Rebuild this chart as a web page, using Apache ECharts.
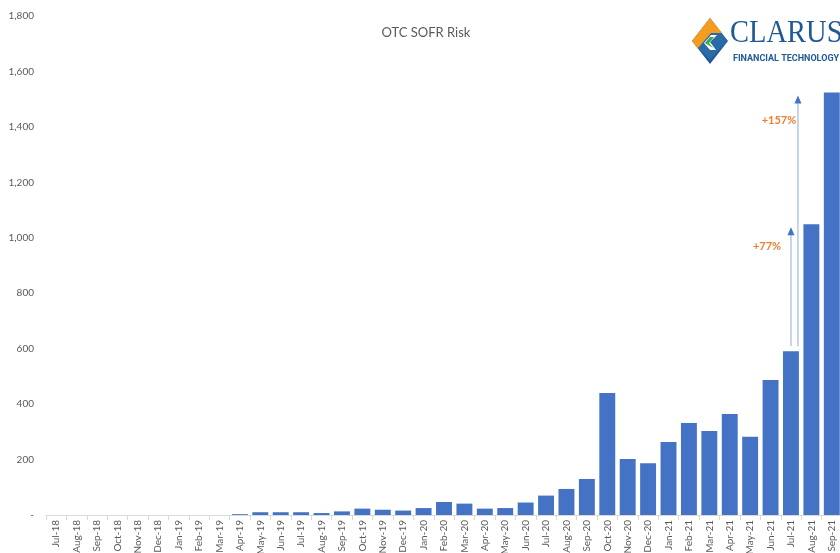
<!DOCTYPE html>
<html>
<head>
<meta charset="utf-8">
<script src="https://cdn.jsdelivr.net/npm/echarts@6/dist/echarts.min.js"></script>
<style>html,body{margin:0;padding:0;background:#fff}#c{width:840px;height:553px}</style>
</head>
<body>
<div id="c"></div>
<script>
var categories = ['Jul-18','Aug-18','Sep-18','Oct-18','Nov-18','Dec-18','Jan-19','Feb-19','Mar-19','Apr-19','May-19','Jun-19','Jul-19','Aug-19','Sep-19','Oct-19','Nov-19','Dec-19','Jan-20','Feb-20','Mar-20','Apr-20','May-20','Jun-20','Jul-20','Aug-20','Sep-20','Oct-20','Nov-20','Dec-20','Jan-21','Feb-21','Mar-21','Apr-21','May-21','Jun-21','Jul-21','Aug-21','Sep-21'];
var riskValues = [0,0,0,0,0,0,0,0,0,3,10,10,10,7,13,23,19,16,25,47,41,23,25,45,70,94,130,440,202,187,263,332,303,364,282,487,591,1049,1524];
var yTicks = {min:0, max:1800, interval:200};
var title = 'OTC SOFR Risk';
var annotations = [
  {label:'+77%', cat:'Jul-21', from:609, to:1038, dx:0, labelValue:970, labelDx:-24},
  {label:'+157%', cat:'Jul-21', from:609, to:1513, dx:7, labelValue:1425, labelDx:-12}
];

var chart = echarts.init(document.getElementById('c'));
var gray = '#595959';
chart.setOption({
  animation:false,
  title:{text:title, left:421, top:21, textAlign:'center',
    textStyle:{fontFamily:'Lato', fontSize:13, fontWeight:'normal', color:gray}},
  grid:{left:46, top:16, width:796, bottom:38, containLabel:false, outerBoundsMode:'none'},
  xAxis:{type:'category', data:categories, boundaryGap:true,
    axisLine:{lineStyle:{color:'#d9d9d9'}},
    axisTick:{show:true, length:5, lineStyle:{color:'#d9d9d9'}},
    axisLabel:{rotate:90, interval:0, fontFamily:'Lato', fontSize:10, color:gray, margin:5}},
  yAxis:{type:'value', min:yTicks.min, max:yTicks.max, interval:yTicks.interval,
    splitLine:{show:false}, axisLine:{show:false}, axisTick:{show:false},
    axisLabel:{fontFamily:'Lato', fontSize:10, color:gray, margin:12,
      formatter:function(v){return v===0?'-':v.toLocaleString('en-US');}}},
  series:[{type:'bar', data:riskValues, barCategoryGap:'22%',
    itemStyle:{color:'#4472C4'}}]
});

function drawExtras(){
  var els = [];
  annotations.forEach(function(a){
    var p0 = chart.convertToPixel({gridIndex:0},[a.cat,a.from]);
    var p1 = chart.convertToPixel({gridIndex:0},[a.cat,a.to]);
    var pl = chart.convertToPixel({gridIndex:0},[a.cat,a.labelValue]);
    var x = p0[0]+a.dx;
    els.push({type:'line', shape:{x1:x,y1:p0[1],x2:x,y2:p1[1]+6}, style:{stroke:'#8eaadb', lineWidth:1}, z:10});
    els.push({type:'polygon', shape:{points:[[x,p1[1]],[x-3.5,p1[1]+8],[x+3.5,p1[1]+8]]}, style:{fill:'#4472C4'}, z:10});
    els.push({type:'text', x:pl[0]+a.labelDx, y:pl[1], style:{text:a.label, fill:'#ED7D31', font:'bold 11px Lato', align:'center', verticalAlign:'middle'}, z:10});
  });
  // logo
  els.push({type:'polygon', shape:{points:[[710,18],[728,41],[710,64],[692,41]]}, style:{fill:'#1f5a96'}, z:10});
  els.push({type:'polygon', shape:{points:[[710,18],[722,33],[712,33],[704,43],[698,49],[692,41]]}, style:{fill:'#f39c1f'}, z:11});
  els.push({type:'polygon', shape:{points:[[711,33],[721,33],[727,41],[710,60],[698,48]]}, style:{fill:'#2b6aa8'}, z:11});
  els.push({type:'polygon', shape:{points:[[711,35],[717,35],[710,42],[716,50],[710,50],[704,43]]}, style:{fill:'#ffffff'}, z:12});
  els.push({type:'polygon', shape:{points:[[710,37],[714,37],[709,43],[713,48],[705,43]]}, style:{fill:'#3aa655'}, z:13});
  els.push({type:'text', x:730, y:49, scaleX:0.92, style:{x:0, y:0, text:'CLARUS', fill:'#1f5a96', font:'31px "Liberation Serif"', textAlign:'left', textVerticalAlign:'bottom'}, z:10});
  els.push({type:'text', x:733, y:54, style:{text:'FINANCIAL TECHNOLOGY', fill:'#1f5a96', font:'bold 9px Roboto', textAlign:'left', textVerticalAlign:'top'}, z:10});
  chart.setOption({graphic:{elements:els}});
}
drawExtras();
</script>
</body>
</html>
